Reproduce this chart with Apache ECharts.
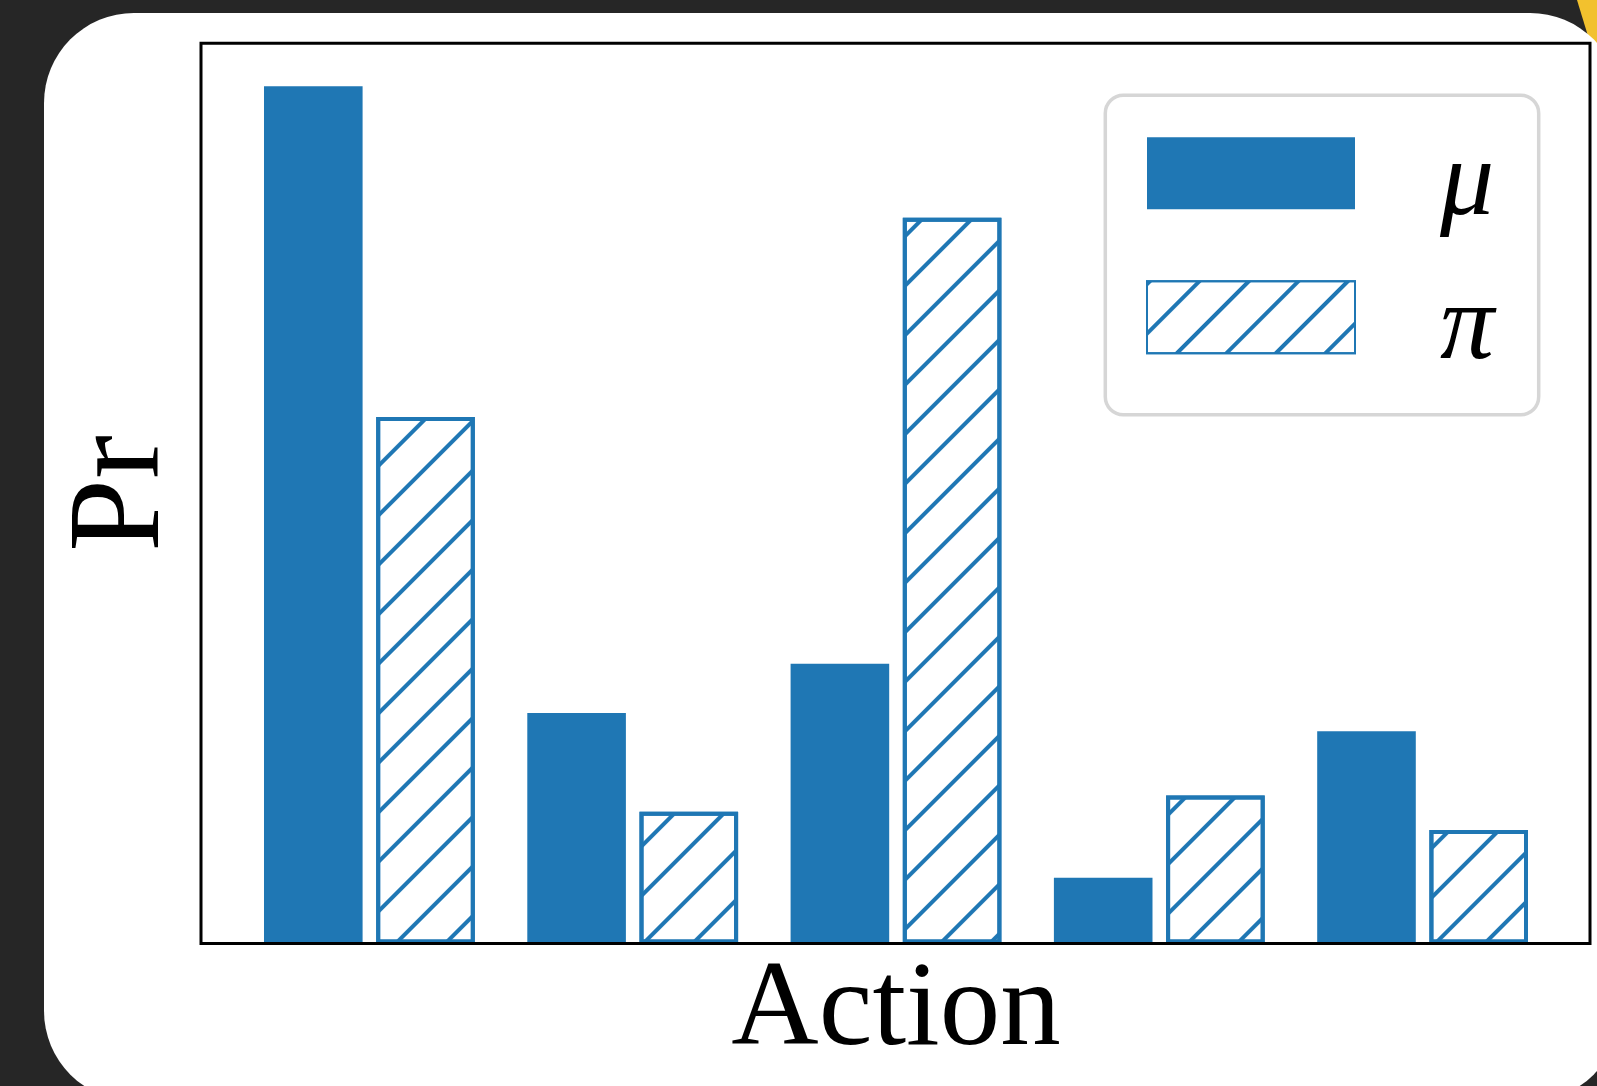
<!DOCTYPE html>
<html>
<head>
<meta charset="utf-8">
<script src="https://cdn.jsdelivr.net/npm/echarts@6/dist/echarts.min.js"></script>
<style>
  html, body { margin: 0; padding: 0; background: #262626; }
  #chart { width: 1597px; height: 1086px; }
</style>
</head>
<body>
<div id="chart"></div>
<script>
// Actions and the two policies' probabilities over them
const actions = ['a1', 'a2', 'a3', 'a4', 'a5'];
const muProbs = [0.521, 0.140, 0.170, 0.040, 0.129];
const piProbs = [0.320, 0.080, 0.441, 0.090, 0.069];
const seriesNames = ['\u03bc', '\u03c0'];

const BLUE = '#1f77b4';
const yMax = 1.05 * Math.max(...muProbs, ...piProbs);

const chart = echarts.init(document.getElementById('chart'), null, { renderer: 'canvas' });

chart.setOption({
  animation: false,
  backgroundColor: 'transparent',
  graphic: [
    // page card
    { type: 'polygon', z: -3, shape: { points: [[1577, 0], [1597, 0], [1597, 45], [1588, 36]] }, style: { fill: '#f2c12e' } },
    { type: 'rect', z: -2, shape: { x: 44, y: 13, width: 1576, height: 1088, r: 90 }, style: { fill: '#ffffff' } },
    // plot frame
    { type: 'rect', z: 5, shape: { x: 201, y: 43.3, width: 1389, height: 900.2 }, style: { fill: null, stroke: '#000', lineWidth: 3 } },
    // legend box
    { type: 'rect', z: 3, shape: { x: 1105.3, y: 95.3, width: 433.4, height: 319.4, r: 18 }, style: { fill: '#fff', stroke: '#d6d6d6', lineWidth: 3.5 } }
  ],
  grid: { left: 237.75, top: 43.3, width: 1316.5, height: 900.2, show: false },
  legend: {
    z: 6,
    orient: 'vertical',
    left: 1146,
    top: 107.3,
    padding: 0,
    icon: 'rect',
    itemWidth: 208,
    itemHeight: 72,
    itemGap: 12,
    data: seriesNames,
    formatter: '{t|{name}}',
    textStyle: {
      fontFamily: 'Liberation Serif',
      fontStyle: 'italic',
      fontSize: 108,
      color: '#000',
      rich: {
        t: {
          fontFamily: 'Liberation Serif',
          fontStyle: 'italic',
          fontSize: 108,
          lineHeight: 108,
          color: '#000',
          padding: [24, 0, 0, 80]
        }
      }
    }
  },
  xAxis: {
    type: 'category',
    data: actions,
    name: 'Action',
    nameLocation: 'middle',
    nameGap: 8,
    nameTextStyle: { fontFamily: 'Liberation Serif', fontSize: 121, color: '#000' },
    axisLine: { show: false },
    axisTick: { show: false },
    axisLabel: { show: false },
    splitLine: { show: false }
  },
  yAxis: {
    type: 'value',
    min: 0,
    max: yMax,
    name: 'Pr',
    nameLocation: 'middle',
    nameGap: 49,
    nameTextStyle: { fontFamily: 'Liberation Serif', fontSize: 131, color: '#000' },
    axisLine: { show: false },
    axisTick: { show: false },
    axisLabel: { show: false },
    splitLine: { show: false }
  },
  series: [
    {
      name: seriesNames[0],
      type: 'bar',
      data: muProbs,
      barWidth: 98.6,
      barGap: '13.8%',
      itemStyle: { color: BLUE }
    },
    {
      name: seriesNames[1],
      type: 'bar',
      data: piProbs,
      barWidth: 98.6,
      barGap: '13.8%',
      itemStyle: {
        color: '#ffffff',
        borderColor: BLUE,
        borderWidth: 4,
        decal: {
          symbol: 'rect',
          symbolSize: 1,
          color: BLUE,
          dashArrayX: [1, 0],
          dashArrayY: [4, 31],
          rotation: -Math.PI / 4
        }
      }
    }
  ]
});
</script>
</body>
</html>
